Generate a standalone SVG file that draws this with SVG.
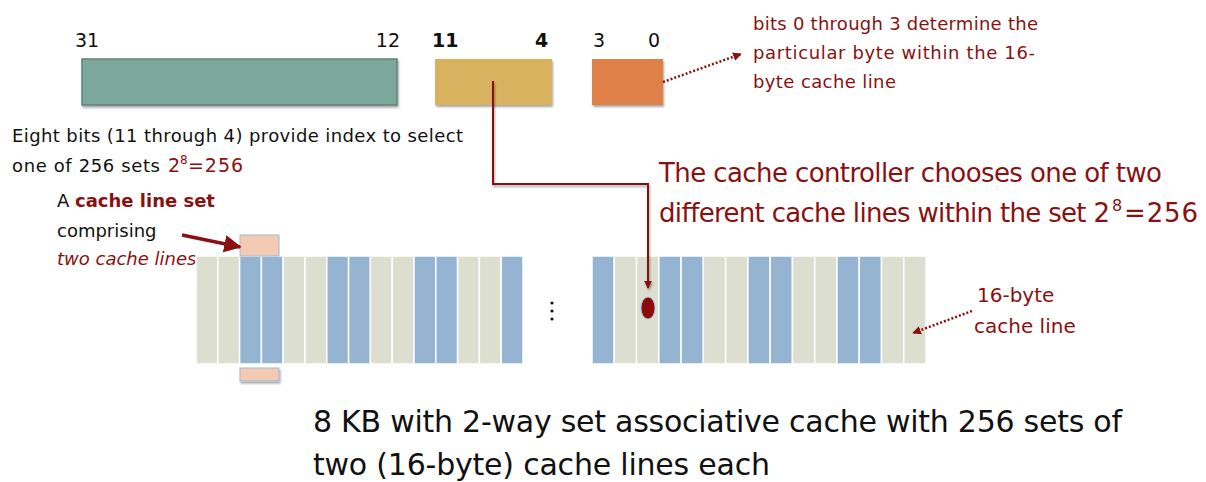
<svg xmlns="http://www.w3.org/2000/svg" width="1206" height="482" viewBox="0 0 1206 482">
<style>
text{font-family:"DejaVu Sans","Liberation Sans",sans-serif}
.blk{fill:#111}
.red{fill:#8B1010}
.g{fill:#DCDECF;stroke:#fff;stroke-width:1.5}
.b{fill:#94B4D2;stroke:#fff;stroke-width:1.5}
.dot{stroke:#8B1010;stroke-width:2.5;stroke-dasharray:2 2;fill:none}
</style>
<defs>
<filter id="sh" x="-20%" y="-20%" width="140%" height="160%"><feDropShadow dx="1" dy="2" stdDeviation="1.2" flood-color="#000" flood-opacity="0.35"/></filter>
<marker id="ah" viewBox="0 0 10 10" refX="9" refY="5" markerWidth="4" markerHeight="4" orient="auto"><path d="M0,0L10,5L0,10z" fill="#8B1010"/></marker>
<marker id="ah2" viewBox="0 0 10 10" refX="9" refY="5" markerWidth="5" markerHeight="5" orient="auto"><path d="M0,0L10,5L0,10z" fill="#8B1010"/></marker>
<marker id="ah3" viewBox="0 0 10 10" refX="9" refY="5" markerWidth="3.5" markerHeight="3.5" orient="auto"><path d="M0,0L10,5L0,10z" fill="#8B1010"/></marker>
</defs>

<g id="address">
<rect x="82" y="59" width="315" height="46" fill="#7CA89B" stroke="#5F8377" stroke-width="1.5" filter="url(#sh)"/>
<rect x="435" y="59" width="117" height="46" fill="#D8B25F" filter="url(#sh)"/>
<rect x="592" y="59" width="71" height="46" fill="#DF8048" filter="url(#sh)"/>
<text x="75" y="47" font-size="19" class="blk">31</text>
<text x="400" y="47" font-size="19" class="blk" text-anchor="end">12</text>
<text x="432" y="47" font-size="19" font-weight="bold" class="blk">11</text>
<text x="535" y="47" font-size="19" font-weight="bold" class="blk">4</text>
<text x="593" y="47" font-size="19" class="blk">3</text>
<text x="648" y="47" font-size="19" class="blk">0</text>
</g>

<g id="note-bits">
<text font-size="18" class="red"><tspan x="753" y="30" textLength="285">bits 0 through 3 determine the</tspan><tspan x="753" y="59" textLength="282">particular byte within the 16-</tspan><tspan x="753" y="88" textLength="143">byte cache line</tspan></text>
</g>

<g id="note-index">
<text font-size="18" class="blk" x="12" y="142" textLength="451">Eight bits (11 through 4) provide index to select</text>
<text font-size="18" class="blk" x="12" y="172" textLength="148">one of 256 sets</text>
<text font-size="19" class="red" y="172"><tspan x="168">2</tspan><tspan font-size="12" x="180" dy="-8">8</tspan><tspan x="188" dy="8" textLength="55">=256</tspan></text>
</g>

<g id="note-set">
<text font-size="18" class="blk" x="57" y="207">A <tspan class="red" font-weight="bold">cache line set</tspan></text>
<text font-size="18" class="blk" x="57" y="237">comprising</text>
<text font-size="18" class="red" font-style="italic" x="57" y="265">two cache lines</text>
</g>

<g id="note-controller">
<text font-size="26" class="red"><tspan x="659" y="182" textLength="503">The cache controller chooses one of two</tspan></text>
<text font-size="26" class="red" y="222"><tspan x="659" textLength="451">different cache lines within the set 2</tspan><tspan font-size="16" x="1112" dy="-11">8</tspan><tspan x="1124" dy="11" textLength="74">=256</tspan></text>
</g>

<g id="note-line">
<text font-size="20" class="red" x="977" y="302">16-byte</text>
<text font-size="20" class="red" x="974" y="333">cache line</text>
</g>

<g id="cache-left">
<rect class="g" x="196" y="256" width="21.8" height="108"/>
<rect class="g" x="217.8" y="256" width="21.8" height="108"/>
<rect class="b" x="239.6" y="256" width="21.8" height="108"/>
<rect class="b" x="261.4" y="256" width="21.8" height="108"/>
<rect class="g" x="283.2" y="256" width="21.8" height="108"/>
<rect class="g" x="305" y="256" width="21.8" height="108"/>
<rect class="b" x="326.8" y="256" width="21.8" height="108"/>
<rect class="b" x="348.6" y="256" width="21.8" height="108"/>
<rect class="g" x="370.4" y="256" width="21.8" height="108"/>
<rect class="g" x="392.2" y="256" width="21.8" height="108"/>
<rect class="b" x="414" y="256" width="21.8" height="108"/>
<rect class="b" x="435.8" y="256" width="21.8" height="108"/>
<rect class="g" x="457.6" y="256" width="21.8" height="108"/>
<rect class="g" x="479.4" y="256" width="21.8" height="108"/>
<rect class="b" x="501.2" y="256" width="21.8" height="108"/>
</g>

<g id="set-markers">
<rect x="240" y="235" width="39" height="21" fill="#F2CBB2" stroke="#9DBBD8" stroke-width="1"/>
<rect x="240" y="368" width="39" height="13" fill="#F2CBB2" stroke="#9DBBD8" stroke-width="1" filter="url(#sh)"/>
</g>

<g id="ellipsis">
<circle cx="552" cy="303" r="1.6" fill="#111"/>
<circle cx="552" cy="311" r="1.6" fill="#111"/>
<circle cx="552" cy="319" r="1.6" fill="#111"/>
</g>

<g id="cache-right">
<rect class="b" x="592" y="256" width="22.27" height="108"/>
<rect class="g" x="614.27" y="256" width="22.27" height="108"/>
<rect class="g" x="636.54" y="256" width="22.27" height="108"/>
<rect class="b" x="658.81" y="256" width="22.27" height="108"/>
<rect class="b" x="681.08" y="256" width="22.27" height="108"/>
<rect class="g" x="703.35" y="256" width="22.27" height="108"/>
<rect class="g" x="725.62" y="256" width="22.27" height="108"/>
<rect class="b" x="747.89" y="256" width="22.27" height="108"/>
<rect class="b" x="770.16" y="256" width="22.27" height="108"/>
<rect class="g" x="792.43" y="256" width="22.27" height="108"/>
<rect class="g" x="814.7" y="256" width="22.27" height="108"/>
<rect class="b" x="836.97" y="256" width="22.27" height="108"/>
<rect class="b" x="859.24" y="256" width="22.27" height="108"/>
<rect class="g" x="881.51" y="256" width="22.27" height="108"/>
<rect class="g" x="903.78" y="256" width="22.27" height="108"/>
</g>

<g id="selected-byte">
<ellipse cx="648" cy="308" rx="7" ry="11" fill="#8B0A0A" stroke="#9DBBD8" stroke-width="1"/>
</g>

<g id="caption">
<text font-size="30" class="blk"><tspan x="313" y="432" textLength="809">8 KB with 2-way set associative cache with 256 sets of</tspan><tspan x="313" y="475" textLength="457">two (16-byte) cache lines each</tspan></text>
</g>

<g id="connectors">
<polyline points="493,81 493,184 648,184 648,288" fill="none" stroke="#8B1010" stroke-width="2" marker-end="url(#ah)" filter="url(#sh)"/>
<line class="dot" x1="663" y1="82" x2="741" y2="54" marker-end="url(#ah3)"/>
<line class="dot" x1="972" y1="311" x2="913" y2="333" marker-end="url(#ah3)"/>
<line x1="182" y1="235" x2="240" y2="247" stroke="#8B1010" stroke-width="3.5" marker-end="url(#ah2)"/>
</g>
</svg>
